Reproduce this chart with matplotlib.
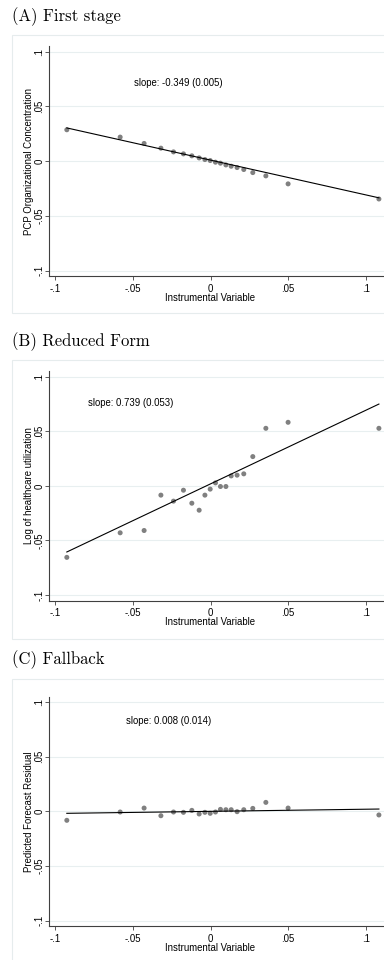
import numpy as np
import matplotlib
matplotlib.use('Agg')
import matplotlib.pyplot as plt
from matplotlib.patches import Rectangle

plt.rcParams['font.family'] = ['Liberation Sans', 'DejaVu Sans']

# binned instrument values (same bins in all panels)
iv_bins = [-0.0924, -0.0581, -0.0427, -0.0319, -0.0238, -0.0174, -0.0120, -0.0073, -0.0036, -0.0002,
           0.0032, 0.0064, 0.0099, 0.0133, 0.0171, 0.0214, 0.0272, 0.0356, 0.0499, 0.1083]

first_stage = [0.0287, 0.0220, 0.0162, 0.0119, 0.0085, 0.0067, 0.0049, 0.0030, 0.0015, 0.0006,
               -0.0009, -0.0018, -0.0034, -0.0046, -0.0058, -0.0076, -0.0104, -0.0134, -0.0207, -0.0345]
reduced_form = [-0.0655, -0.0430, -0.0409, -0.0085, -0.0140, -0.0040, -0.0159, -0.0223, -0.0085, -0.0030,
                0.0027, -0.0006, -0.0006, 0.0091, 0.0098, 0.0110, 0.0268, 0.0527, 0.0582, 0.0527]
fallback = [-0.0082, -0.0006, 0.0030, -0.0040, -0.0006, -0.0009, 0.0009, -0.0024, -0.0009, -0.0018,
            -0.0006, 0.0018, 0.0015, 0.0015, -0.0003, 0.0015, 0.0027, 0.0082, 0.0030, -0.0033]

# fitted lines as drawn (slope, intercept)
fit_slope = [-0.318, 0.675, 0.0195]
fit_icept = [0.0010, 0.0018, 0.0000]

titles = ['(A) First stage', '(B) Reduced Form', '(C) Fallback']
ylabels = ['PCP Organizational Concentration', 'Log of healthcare utilization', 'Predicted Forecast Residual']
notes = ['slope: -0.349 (0.005)', 'slope: 0.739 (0.053)', 'slope: 0.008 (0.014)']
note_pos = [(-0.0495, 0.0715), (-0.0785, 0.0762), (-0.0542, 0.0825)]

ticks = [-0.1, -0.05, 0, 0.05, 0.1]
tick_labels = ['-.1', '-.05', '0', '.05', '.1']

W, H = 384, 960
fig = plt.figure(figsize=(W / 100, H / 100), dpi=100)
fig.patch.set_facecolor('white')

def frac(x0, y0, x1, y1):
    return [x0 / W, 1 - y1 / H, (x1 - x0) / W, (y1 - y0) / H]

# pixel layout: (title y, box top, box bottom, axes top, axes bottom)
layout = [(17, 35, 313, 46.2, 276.2),
          (342, 360, 639, 371.2, 600.5),
          (660, 679, 970, 696.5, 926.2)]

series = [first_stage, reduced_form, fallback]
ax_left, ax_right = 49.3, 384

for i in range(3):
    ty, bt, bb, at, ab = layout[i]
    fig.text(12 / W, 1 - ty / H, titles[i], family='cmr10', fontsize=12, va='center', ha='left')
    fig.patches.append(Rectangle((12 / W, 1 - bb / H), (W + 10 - 12) / W, (bb - bt) / H,
                                 transform=fig.transFigure, fc='white', ec='#e6eced', lw=0.8, zorder=-10))

    ax = fig.add_axes(frac(ax_left, at, ax_right, ab))
    ax.set_facecolor('none')
    x = np.array(iv_bins)
    y = np.array(series[i])
    xs = np.array([x.min(), x.max()])
    for t in ticks:
        ax.axhline(t, color='#e8eff0', lw=0.8, zorder=0)
    ax.scatter(x, y, s=13, color='#808080', edgecolors='none', zorder=3)
    ax.plot(xs, fit_slope[i] * xs + fit_icept[i], color='black', lw=0.8, zorder=4)
    ax.text(note_pos[i][0], note_pos[i][1], notes[i], fontsize=6.9, ha='left', va='center')

    ax.set_xlim(-0.10367, 0.11158)
    ax.set_ylim(-0.105, 0.105)
    ax.set_xticks(ticks)
    ax.set_xticklabels(tick_labels)
    ax.set_yticks(ticks)
    ax.set_yticklabels(tick_labels, rotation=90, va='center')
    ax.tick_params(axis='x', length=3, width=0.6, color='#404040', labelsize=6.9, pad=2.5)
    ax.tick_params(axis='y', length=3, width=0.6, color='#404040', labelsize=6.9, pad=0.5)
    for s in ['top', 'right']:
        ax.spines[s].set_visible(False)
    for s in ['left', 'bottom']:
        ax.spines[s].set_color('#404040')
        ax.spines[s].set_linewidth(0.8)

    hpx = ab - at
    ax.set_xlabel('Instrumental Variable', fontsize=6.9, va='center')
    ax.xaxis.set_label_coords((210.3 - ax_left) / (ax_right - ax_left), -21.5 / hpx)
    ax.set_ylabel(ylabels[i], fontsize=6.9, va='center')
    ax.yaxis.set_label_coords((29.3 - ax_left) / (ax_right - ax_left), 0.5)

fig.savefig('out.png', dpi=100)
